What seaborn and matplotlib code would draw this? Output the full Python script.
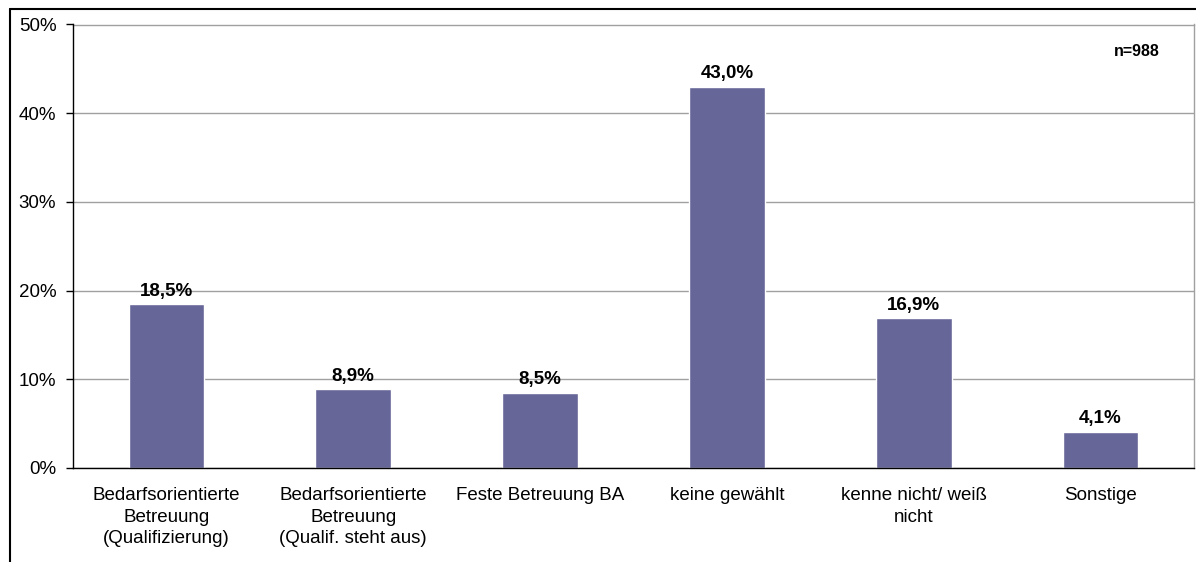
import matplotlib
matplotlib.use("Agg")
import matplotlib.pyplot as plt
import seaborn as sns
import pandas as pd
import numpy as np
from matplotlib.lines import Line2D

categories = ["Bedarfsorientierte\nBetreuung\n(Qualifizierung)",
              "Bedarfsorientierte\nBetreuung\n(Qualif. steht aus)",
              "Feste Betreuung BA",
              "keine gewählt",
              "kenne nicht/ weiß\nnicht",
              "Sonstige"]
values = [18.5, 8.9, 8.5, 43.0, 16.9, 4.1]
yticks = [0, 10, 20, 30, 40, 50]
ytick_labels = ["0%", "10%", "20%", "30%", "40%", "50%"]
note = "n=988"

sns.set_theme(style="white")
plt.rcParams['font.family'] = ['Liberation Sans', 'DejaVu Sans']
plt.rcParams['text.color'] = '#000000'
plt.rcParams['xtick.color'] = '#000000'
plt.rcParams['ytick.color'] = '#000000'

W, H = 1196, 562
fig = plt.figure(figsize=(W/100, H/100), dpi=100)
ax = fig.add_axes([73/W, 1-468/H, (1194-73)/W, (468-24.5)/H])

df = pd.DataFrame({"cat": categories, "val": values})
sns.barplot(data=df, x="cat", y="val", color="#666699", saturation=1,
            width=0.405, ax=ax, zorder=3)

ax.set_ylim(0, 50)
ax.set_xlim(-0.5, len(categories)-0.5)
ax.set_yticks(yticks)
ax.set_yticklabels(ytick_labels, fontsize=13.5, color="#000000")
ax.set_xlabel("")
ax.set_ylabel("")
ax.set_xticks(range(len(categories)))
ax.set_xticklabels(categories, fontsize=13.5, linespacing=1.32, color="#000000")
ax.tick_params(axis="x", which="major", length=0, pad=14)
ax.set_xticks(np.arange(-0.5, len(categories), 1), minor=True)
ax.tick_params(axis="x", which="minor", length=5, width=1, color="#000000", direction="out")
ax.tick_params(axis="y", length=5, width=1, color="#000000", direction="out", pad=7, left=True)

ax.yaxis.grid(True, color="#a0a0a0", linewidth=1, zorder=0)
ax.xaxis.grid(False)
for s in ["top", "right"]:
    ax.spines[s].set_color("#a0a0a0")
    ax.spines[s].set_linewidth(1)
for s in ["left", "bottom"]:
    ax.spines[s].set_color("#000000")
    ax.spines[s].set_linewidth(1)
    ax.spines[s].set_zorder(4)

for i, v in enumerate(values):
    ax.annotate(f"{v:.1f}".replace(".", ",") + "%", (i, v), xytext=(0, 3),
                textcoords="offset points", ha="center", va="bottom",
                fontsize=13.5, fontweight="bold", color="#000000", zorder=5)

ax.text(1137/W, 1-52/H, note, transform=fig.transFigure, ha="center", va="center",
        fontsize=11.5, fontweight="bold", color="#000000")

# outer frame
fig.add_artist(Line2D([9.5/W, 9.5/W], [0, 1-9/H], transform=fig.transFigure, color="#000000", lw=1.5))
fig.add_artist(Line2D([9.5/W, 1], [1-9/H, 1-9/H], transform=fig.transFigure, color="#000000", lw=1.5))

fig.savefig("out.png", dpi=100)
